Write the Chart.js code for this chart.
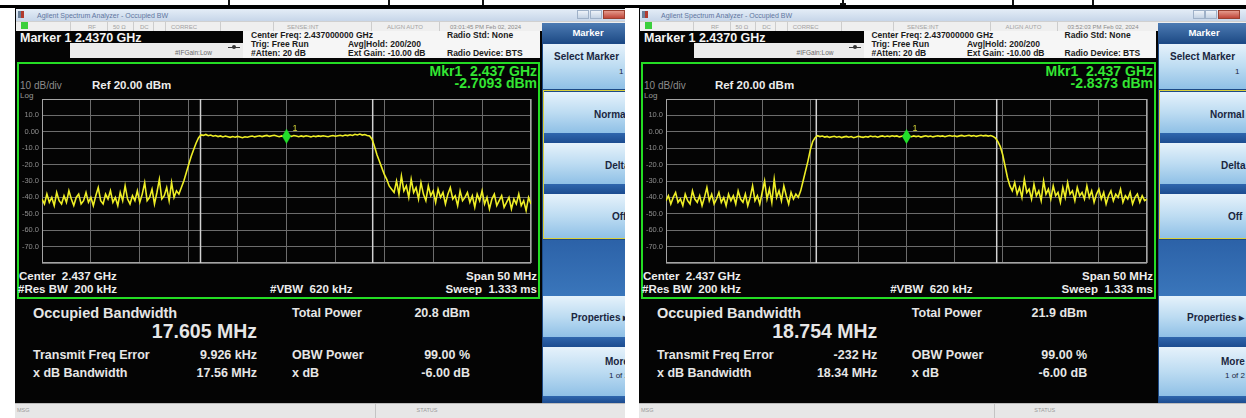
<!DOCTYPE html>
<html>
<head>
<meta charset="utf-8">
<script src="https://cdn.jsdelivr.net/npm/chart.js@4.4.1/dist/chart.umd.min.js"></script>
<style>
  html, body { margin: 0; padding: 0; background: #fff; }
  #page { position: relative; width: 1246px; height: 418px; overflow: hidden;
          font-family: "Liberation Sans", Arial, sans-serif; }
  .t { position: absolute; white-space: pre; line-height: 1; }
  .b { position: absolute; box-sizing: border-box; }
</style>
</head>
<body>
<div id="page"></div>
<script>
// sweep: 2.412 .. 2.462 GHz, 201 bins (MHz)
const sweepStartMHz = 2412;
const sweepStopMHz = 2462;
const binMHz = 0.25;
const refLevelDbm = 20;
const bottomLevelDbm = -80;
const yTickLabels = ['', '10.0', '0.00', '-10.0', '-20.0', '-30.0', '-40.0', '-50.0', '-60.0', '-70.0', ''];

// averaged trace, first capture (dBm per bin)
const traceA = [
  -41, -44, -38, -43, -40, -45, -37, -42, -44, -39,
  -43, -36, -41, -45, -40, -38, -44, -42, -37, -43,
  -40, -45, -39, -34, -42, -44, -38, -41, -36, -43,
  -40, -45, -37, -42, -33, -41, -44, -39, -42, -36,
  -43, -38, -31, -42, -40, -35, -44, -37, -29, -41,
  -39, -34, -42, -31, -40, -36,
  -38, -34, -30, -25, -20, -15, -11, -7, -3.8,
  -1.9, -2.2, -1.6, -2.4, -2.0, -2.7, -2.3, -2.9, -2.5, -3.1,
  -2.6, -3.0, -3.4, -2.9, -3.3, -2.8, -3.2, -3.6, -3.0, -3.3,
  -2.9, -2.6, -3.1, -2.7, -2.4, -2.9, -2.5, -2.2, -2.8, -2.4,
  -2.1, -2.6, -3.0, -2.5, -2.9, -2.71, -2.4, -2.8, -2.3, -2.6,
  -3.0, -2.5, -2.9, -2.4, -2.7, -3.1, -2.6, -2.9, -2.5, -2.8,
  -2.4, -2.7, -3.0, -2.6, -2.3, -2.7, -2.4, -2.1, -2.5, -2.0,
  -2.3, -1.8, -2.2, -1.5, -1.9, -1.4, -2.0, -1.7, -2.2, -2.6,
  -4.5, -9, -14, -18, -22, -26, -29, -33, -35, -37,
  -30, -38, -27, -36, -33, -40, -29, -37, -34, -41,
  -31, -38, -42, -33, -39, -36, -43, -35, -40, -37,
  -44, -38, -34, -41, -39, -45, -36, -42, -40, -37,
  -43, -39, -46, -38, -42, -36, -44, -40, -47, -41,
  -38, -45, -42, -39, -46, -43, -40, -47, -41, -44,
  -38, -45, -42, -48, -40, -44
];

// averaged trace, second capture
const traceB = [
  -42, -39, -44, -40, -37, -43, -41, -45, -38, -42,
  -44, -36, -41, -43, -39, -45, -40, -34, -42, -38,
  -44, -41, -37, -43, -40, -45, -38, -42, -39, -44,
  -36, -41, -43, -38, -45, -40, -33, -42, -39, -44,
  -37, -30, -41, -35, -43, -29, -40, -36, -42, -33,
  -39, -44, -37, -41, -38, -40,
  -36, -30, -24, -18, -11, -6, -3.6,
  -2.4, -2.9, -2.6, -3.2, -2.8, -3.4, -3.0, -2.7, -3.3, -2.9,
  -3.5, -3.1, -2.8, -3.3, -2.9, -3.6, -3.2, -2.7, -3.1, -3.4,
  -2.9, -3.2, -2.6, -3.0, -2.7, -3.3, -2.8, -2.5, -3.0, -2.6,
  -2.9, -2.4, -2.8, -2.5, -3.1, -2.7, -2.3, -2.84, -2.6, -3.0,
  -2.5, -2.9, -2.6, -3.2, -2.8, -2.4, -2.9, -2.6, -3.1, -2.7,
  -2.4, -2.8, -2.5, -3.0, -2.6, -2.3, -2.7, -2.4, -2.9, -2.5,
  -2.2, -2.7, -2.4, -2.1, -2.6, -2.3, -2.8, -2.4, -2.1, -2.5,
  -2.2, -2.6, -2.3, -2.8,
  -3.8, -6, -9, -14, -21, -28, -33, -36,
  -31, -38, -34, -40, -29, -37, -35, -41, -32, -39,
  -36, -42, -30, -38, -35, -41, -33, -39, -37, -43,
  -34, -40, -31, -38, -36, -42, -34, -39, -37, -41,
  -33, -40, -36, -43, -38, -35, -41, -37, -44, -39,
  -36, -42, -38, -40, -35, -43, -39, -41, -37, -44,
  -40, -38, -43, -39, -42, -41
];

const markerFreqMHz = [2437, 2437];
const markerLevelDbm = [-2.7093, -2.8373];
const obwMHz = [17.605, 18.754];
const freqErrorHz = [9926, -232];
const xdbBandwidthMHz = [17.56, 18.34];
const totalPowerDbm = [20.8, 21.9];
const obwPowerPct = [99.0, 99.0];
const xdbLevel = [-6.0, -6.0];
const timeStamps = ['03:01:45 PM Feb 02, 2024', '03:52:03 PM Feb 02, 2024'];

Chart.defaults.font.family = '"Liberation Sans", Arial, sans-serif';

// screen placement of the two captures
const panels = [
  { x0: 15, w: 610, sx: 1, trace: traceA },
  { x0: 639, w: 607, sx: 0.985, trace: traceB }
];

const page = document.getElementById('page');

function box(parent, x, y, w, h, css) {
  const d = document.createElement('div');
  d.className = 'b';
  d.style.cssText += `left:${x}px;top:${y}px;width:${w}px;height:${h}px;` + (css || '');
  parent.appendChild(d);
  return d;
}

function text(parent, str, x, y, size, css, align) {
  const d = document.createElement('div');
  d.className = 't';
  d.textContent = str;
  const tx = align === 'right' ? '-100%' : align === 'center' ? '-50%' : '0';
  d.style.cssText += `left:${x}px;top:${y}px;font-size:${size}px;transform:translate(${tx},-50%);` + (css || '');
  parent.appendChild(d);
  return d;
}

function fmtFreqErr(hz) {
  return Math.abs(hz) >= 1000 ? (hz / 1000).toFixed(3) + ' kHz' : hz + ' Hz';
}

function diamondImage() {
  const c = document.createElement('canvas');
  c.width = 9; c.height = 15;
  const g = c.getContext('2d');
  g.fillStyle = '#22e02a';
  g.beginPath();
  g.moveTo(4.5, 0); g.lineTo(9, 7.5); g.lineTo(4.5, 15); g.lineTo(0, 7.5);
  g.closePath();
  g.fill();
  return c;
}

// light frame round the graticule
const plotFrame = {
  id: 'plotFrame',
  beforeDatasetsDraw(chart) {
    const a = chart.chartArea, ctx = chart.ctx;
    ctx.save();
    ctx.strokeStyle = '#a4a4a4';
    ctx.lineWidth = 1;
    ctx.strokeRect(Math.round(a.left) + 0.5, Math.round(a.top) + 0.5,
      Math.round(a.right - a.left) - 1, Math.round(a.bottom - a.top) - 1);
    ctx.restore();
  }
};

// marker number next to the diamond
const markerTag = {
  id: 'markerTag',
  afterDatasetsDraw(chart) {
    const p = chart.getDatasetMeta(0).data[0];
    if (!p) return;
    const ctx = chart.ctx;
    ctx.save();
    ctx.fillStyle = '#dcdc3a';
    ctx.font = '9px "Liberation Sans", Arial, sans-serif';
    ctx.fillText('1', p.x + 6, p.y - 5);
    ctx.restore();
  }
};

function drawPanel(P, k) {
  const el = box(page, P.x0, 8, P.w, 410, 'overflow:hidden;background:#040404;');
  const X = v => v * P.sx;
  const dark = 'color:#1b1b1b;font-weight:bold;';
  const white = 'color:#ececec;font-weight:bold;';

  // window title + status row
  box(el, 1, 1, P.w, 12, 'background:linear-gradient(#e4edf7,#c7d6e9);');
  box(el, 3, 3, 6, 7, 'background:linear-gradient(90deg,#6a7f98 50%,#b23a2e 50%);');
  text(el, 'Agilent Spectrum Analyzer - Occupied BW', 22, 6.5, 7, 'color:#5f76a0;');
  box(el, X(562), 2, 12, 9, 'background:linear-gradient(#eef3f9,#c3d2e4);border:1px solid #9fb1c8;');
  box(el, X(575), 2, 12, 9, 'background:linear-gradient(#eef3f9,#c3d2e4);border:1px solid #9fb1c8;');
  box(el, X(588), 2, 22, 9, 'background:linear-gradient(#e59a8c,#c0473a);border:1px solid #9a4030;');
  box(el, 1, 13, P.w, 10, 'background:#efefef;border-top:1px solid #d0d0d0;');
  box(el, 6, 14, 7, 7, 'background:#3ccf3c;');
  [55, 92, 118, 138, 150, 205, 258, 356, 424].forEach(s => box(el, X(s), 14, 1, 9, 'background:#cdcdcd;'));
  const st = 'color:#a2a2a2;';
  text(el, 'RF', X(73), 18.5, 6, st);
  text(el, '50 Ω', X(98), 18.5, 6, st);
  text(el, 'DC', X(125), 18.5, 6, st);
  text(el, 'CORREC', X(156), 18.5, 6, st);
  text(el, 'SENSE:INT', X(272), 18.5, 6, st);
  text(el, 'ALIGN AUTO', X(372), 18.5, 6, st);
  text(el, timeStamps[k], X(435), 18.5, 6, 'color:#8a8a8a;');

  // marker readout band + settings header
  text(el, 'Marker 1 ' + (markerFreqMHz[k] / 1000).toFixed(4) + ' GHz', 5, 29.8, 12.5, 'color:#f4f4f4;font-weight:bold;');
  box(el, 55, 35, X(228) - 55, 15, 'background:#ececec;');
  text(el, '#IFGain:Low', X(160), 45, 6.5, 'color:#6a6a6a;');
  box(el, X(213), 38.5, 12, 1, 'background:#333;');
  box(el, X(217), 37, 4, 4, 'background:#333;border-radius:2px;');
  box(el, X(228), 23, X(525) - X(228), 27, 'background:#f6f6f6;');
  text(el, 'Center Freq: ' + (markerFreqMHz[k] / 1000).toFixed(9) + ' GHz', X(236), 27, 8.5, dark);
  text(el, 'Trig: Free Run', X(236), 36, 8.5, dark);
  text(el, '#Atten: 20 dB', X(236), 45, 8.5, dark);
  text(el, 'Avg|Hold: 200/200', X(333), 36, 8.5, dark);
  text(el, 'Ext Gain: -10.00 dB', X(333), 45, 8.5, dark);
  text(el, 'Radio Std: None', X(432), 27, 8.5, dark);
  text(el, 'Radio Device: BTS', X(432), 45, 8.5, dark);

  // graticule window
  const frameL = Math.round(X(2)), frameR = Math.round(X(525));
  box(el, frameL, 54, frameR - frameL, 237, 'border:2px solid #24dc24;');
  const plotL = Math.round(X(27)), plotR = Math.round(X(522));
  const green = 'color:#33e633;font-weight:bold;';
  text(el, 'Mkr1  ' + (markerFreqMHz[k] / 1000).toFixed(3) + ' GHz', plotR, 62.7, 14, green, 'right');
  text(el, markerLevelDbm[k].toFixed(4) + ' dBm', plotR, 74.7, 14, green, 'right');
  text(el, '10 dB/div', frameL + 3, 78, 10, 'color:#8c8c8c;');
  text(el, 'Ref ' + refLevelDbm.toFixed(2) + ' dBm', frameL + X(75), 78, 11.5, white);
  text(el, 'Log', frameL + 3, 88, 8, 'color:#9a9a9a;');
  text(el, 'Center  ' + (markerFreqMHz[k] / 1000).toFixed(3) + ' GHz', frameL + 2, 268.7, 11.5, white);
  text(el, '#Res BW  200 kHz', frameL + 1, 281.5, 11.5, white);
  text(el, '#VBW  620 kHz', X(255), 281.5, 11.5, white);
  text(el, 'Span ' + (sweepStopMHz - sweepStartMHz) + ' MHz', plotR, 268.7, 11.5, white, 'right');
  text(el, 'Sweep  1.333 ms', plotR, 281.5, 11.5, white, 'right');

  // measurement results
  const m = 'color:#e6e6e6;font-weight:bold;';
  text(el, 'Occupied Bandwidth', 18, 305.3, 14.5, m);
  text(el, obwMHz[k].toFixed(3) + ' MHz', X(242), 323.7, 19.5, m, 'right');
  text(el, 'Transmit Freq Error', 18, 347, 12.5, m);
  text(el, fmtFreqErr(freqErrorHz[k]), X(242), 347, 12.5, m, 'right');
  text(el, 'x dB Bandwidth', 18, 365.3, 12.5, m);
  text(el, xdbBandwidthMHz[k].toFixed(2) + ' MHz', X(242), 365.3, 12.5, m, 'right');
  text(el, 'Total Power', X(277), 305.3, 12.5, m);
  text(el, totalPowerDbm[k].toFixed(1) + ' dBm', X(455), 305.3, 12.5, m, 'right');
  text(el, 'OBW Power', X(277), 347, 12.5, m);
  text(el, obwPowerPct[k].toFixed(2) + ' %', X(455), 347, 12.5, m, 'right');
  text(el, 'x dB', X(277), 365.3, 12.5, m);
  text(el, xdbLevel[k].toFixed(2) + ' dB', X(455), 365.3, 12.5, m, 'right');

  // softkey column
  const mx = Math.round(X(527));
  box(el, mx, 15, 130, 380, 'background:#1d4a87;');
  box(el, mx, 15, 130, 19, 'background:linear-gradient(#4d7bb3,#204d88);');
  text(el, 'Marker', mx + 46, 24.5, 9.5, 'color:#fff;font-weight:bold;', 'center');
  const key = (y, lightH, darkH) => {
    box(el, mx + 1, y, 130, lightH, 'background:linear-gradient(#e6f2fb,#bddcf2 50%,#8fc0e6);');
    if (darkH) box(el, mx + 1, y + lightH, 130, darkH, 'background:linear-gradient(#2f66ad,#1c4c90);');
  };
  key(36, 45, 0);
  key(84, 41, 10);
  key(135, 41, 10);
  key(186, 44, 0);
  box(el, mx + 1, 232, 130, 56, 'background:linear-gradient(#2c62a8,#3a76bb);');
  key(288, 41, 10);
  key(339, 49, 7);
  box(el, mx + 1, 82, 130, 149, 'border:1.5px solid #d9cf3c;');
  const kt = 'color:#1a2640;font-weight:bold;';
  text(el, 'Select Marker', mx + 12, 48.7, 10, kt);
  text(el, '1', mx + 77, 63.7, 8, 'color:#1a2640;');
  text(el, 'Normal', mx + 52, 107, 10, kt);
  text(el, 'Delta', mx + 63, 158, 10, kt);
  text(el, 'Off', mx + 70, 208.7, 10, kt);
  text(el, 'Properties ▸', mx + 29, 310, 10, kt);
  text(el, 'More', mx + 63, 353.7, 10, kt);
  text(el, '1 of 2', mx + 67, 368, 8, 'color:#1a2640;');

  // message / status line
  box(el, 0, 395, P.w, 15, 'background:#e7e7e7;border-top:1px solid #bdbdbd;');
  box(el, X(360), 396, 1, 14, 'background:#c4c4c4;');
  text(el, 'MSG', 2, 403, 5.5, 'color:#9a9a9a;');
  text(el, 'STATUS', X(412), 403, 5.5, 'color:#9a9a9a;', 'center');

  // spectrum plot
  const cv = document.createElement('canvas');
  const cw = plotR - plotL + 26, ch = 180;
  cv.width = cw; cv.height = ch;
  cv.style.cssText = `position:absolute;left:${plotL - 24}px;top:83px;width:${cw}px;height:${ch}px;`;
  el.appendChild(cv);

  const fc = markerFreqMHz[k] + freqErrorHz[k] / 1e6;
  const obwLo = fc - obwMHz[k] / 2, obwHi = fc + obwMHz[k] / 2;
  const vline = f => [{ x: f, y: bottomLevelDbm }, { x: f, y: refLevelDbm }];

  new Chart(cv, {
    type: 'line',
    data: {
      datasets: [
        {
          data: [{ x: markerFreqMHz[k], y: markerLevelDbm[k] }],
          showLine: false,
          pointStyle: diamondImage(),
          pointRadius: 7
        },
        {
          data: P.trace.map((v, i) => ({ x: sweepStartMHz + i * binMHz, y: v })),
          borderColor: '#eeee26',
          borderWidth: 1.6,
          pointRadius: 0,
          tension: 0
        },
        { data: vline(obwLo), borderColor: '#d2d2d2', borderWidth: 1.5, pointRadius: 0 },
        { data: vline(obwHi), borderColor: '#d2d2d2', borderWidth: 1.5, pointRadius: 0 }
      ]
    },
    options: {
      responsive: false,
      animation: false,
      events: [],
      layout: { padding: { top: 2, right: 2, bottom: 2, left: 0 } },
      plugins: { legend: { display: false }, tooltip: { enabled: false } },
      scales: {
        x: {
          type: 'linear',
          min: sweepStartMHz,
          max: sweepStopMHz,
          ticks: { display: false, stepSize: (sweepStopMHz - sweepStartMHz) / 10 },
          grid: { color: '#6c6c6c', drawTicks: false },
          border: { display: false },
          afterFit: s => { s.height = 0; }
        },
        y: {
          min: bottomLevelDbm,
          max: refLevelDbm,
          ticks: {
            stepSize: 10,
            autoSkip: false,
            color: '#8e8e8e',
            font: { size: 7.5 },
            padding: 3,
            callback: v => yTickLabels[Math.round((refLevelDbm - v) / 10)] || ''
          },
          grid: { color: '#6c6c6c', drawTicks: false },
          border: { display: false },
          afterFit: s => { s.width = 24; }
        }
      }
    },
    plugins: [plotFrame, markerTag]
  });
}

// rule under the caption line, with its descenders
box(page, 0, 5, 1246, 3, 'background:#000;');
[228, 388, 482, 1012, 1092].forEach(x => box(page, x, 0, 2, 5, 'background:#111;'));
box(page, 842, 0, 2, 4, 'background:#111;');
box(page, 840, 3, 6, 2, 'background:#111;');

panels.forEach(drawPanel);
</script>
</body>
</html>
